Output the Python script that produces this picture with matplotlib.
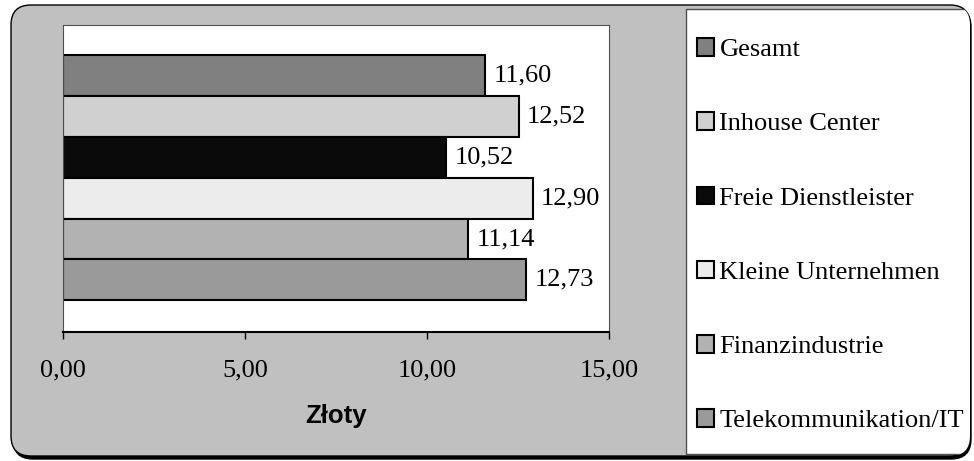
import matplotlib.pyplot as plt
from matplotlib.patches import FancyBboxPatch, Rectangle
from matplotlib.transforms import IdentityTransform
from matplotlib.ticker import FuncFormatter

# data (top bar first)
categories = ['Gesamt', 'Inhouse Center', 'Freie Dienstleister',
              'Kleine Unternehmen', 'Finanzindustrie', 'Telekommunikation/IT']
values = [11.60, 12.52, 10.52, 12.90, 11.14, 12.73]
colors = ['#808080', '#d0d0d0', '#0a0a0a', '#ececec', '#b2b2b2', '#9a9a9a']
xticks = [0, 5, 10, 15]
xlabel = 'Złoty'


def de(v):
    # german decimal comma
    return f'{v:.2f}'.replace('.', ',')


W, H = 974, 461
fig = plt.figure(figsize=(W / 100, H / 100), dpi=100)

# grey rounded frame with a dark shadow, pixel coords
px = IdentityTransform()
style = 'round,pad=0,rounding_size=20'
shadow = FancyBboxPatch((13, 2), 958, 452, boxstyle=style, fc='black',
                        ec='black', lw=1, transform=px, zorder=-3)
frame = FancyBboxPatch((11, 5), 959, 451, boxstyle=style, fc='#c0c0c0',
                       ec='black', lw=1, transform=px, zorder=-2)
fig.patches.extend([shadow, frame])

# white legend panel
lbox = Rectangle((686, 7), 290, 445, fc='white', ec='#505050', lw=1,
                 transform=px, zorder=-1)
lbox.set_clip_path(frame)
fig.patches.append(lbox)

ax = fig.add_axes([63 / W, (H - 331.7) / H, 546 / W, 306.7 / H])
ax.set_facecolor('white')

ypos = list(range(len(categories)))
bars = ax.barh(ypos, values, height=1.0, color=colors,
               edgecolor='black', linewidth=1.5)
ax.bar_label(bars, labels=[de(v) for v in values], padding=6,
             fontsize=19, family='Liberation Serif')

ax.set_xlim(0, 15)
ax.set_ylim(6.27, -1.24)
ax.set_yticks([])
ax.set_xticks(xticks)
ax.xaxis.set_major_formatter(FuncFormatter(lambda v, p: de(v)))
ax.tick_params(axis='x', direction='out', length=5, width=1, pad=15,
               labelsize=19)
for t in ax.get_xticklabels():
    t.set_fontfamily('Liberation Serif')

for s in ['top', 'left', 'right']:
    ax.spines[s].set_color('#505050')
    ax.spines[s].set_linewidth(0.8)
ax.spines['bottom'].set_linewidth(1.5)

ax.set_xlabel(xlabel, fontsize=18.5, fontweight='bold',
              family='Liberation Sans', labelpad=16)

ax.legend(bars.patches, categories, loc='upper left',
          bbox_to_anchor=(697 / W, 1 - 38 / H), bbox_transform=fig.transFigure,
          frameon=False, prop={'family': 'Liberation Serif', 'size': 19},
          handlelength=0.65, handleheight=0.65, handletextpad=0.2,
          labelspacing=1.94, borderpad=0, borderaxespad=0)

plt.savefig('out.png', dpi=100)
